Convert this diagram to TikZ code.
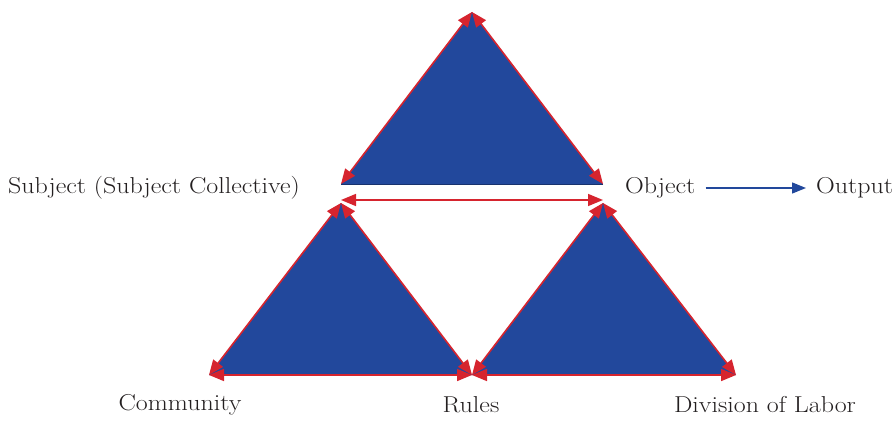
\documentclass[tikz,border=0pt]{standalone}
\usepackage{fontspec}
\setmainfont{Latin Modern Roman}[FakeStretch=1.13]
\usetikzlibrary{arrows.meta}
\definecolor{triblue}{RGB}{34,72,156}
\definecolor{edgered}{RGB}{214,36,46}
\definecolor{txt}{RGB}{35,31,32}
\tikzset{
  tri/.style={fill=triblue},
  redge/.style={draw=edgered, line width=1.6pt,
    {Triangle[length=15pt,width=12pt]}-{Triangle[length=15pt,width=12pt]}},
  lbl/.style={font=\fontsize{23}{27}\selectfont, text=txt, inner sep=0pt},
  flow/.style={draw=triblue, line width=1.4pt, -{Triangle[length=14pt,width=11pt]}}
}
\begin{document}
\begin{tikzpicture}[x=1pt,y=-1pt]
\useasboundingbox (0,0) rectangle (896,420);
% corners
\coordinate (T) at (472,12);
\coordinate (TL) at (341,184);
\coordinate (TR) at (603,184);
\coordinate (LA) at (341,203);
\coordinate (LL) at (209,375);
\coordinate (M) at (472,375);
\coordinate (RA) at (603,203);
\coordinate (RR) at (736,375);
\coordinate (HL) at (341,200);
\coordinate (HR) at (603,200);
% triangles
\fill[tri] (T) -- (TL) -- (TR) -- cycle;
\draw[triblue!70!black, line width=0.8pt] (TL) -- (TR);
\fill[tri] (LA) -- (LL) -- (M) -- cycle;
\fill[tri] (RA) -- (M) -- (RR) -- cycle;
% red double arrows
\draw[redge] (T) -- (TL);
\draw[redge] (T) -- (TR);
\draw[redge] (HL) -- (HR);
\draw[redge] (LA) -- (LL);
\draw[redge] (LA) -- (M);
\draw[redge] (LL) -- (M);
\draw[redge] (RA) -- (M);
\draw[redge] (RA) -- (RR);
\draw[redge] (M) -- (RR);
% labels
\node[lbl, anchor=east] (subj) at (300,188) {Subject (Subject Collective)};
\node[lbl, anchor=west] (obj) at (625,188) {Object};
\node[lbl, anchor=west] (out) at (816,188) {Output};
\node[lbl] (comm) at (180,405) {Community};
\node[lbl] (rules) at (471,405) {Rules};
\node[lbl] (div) at (765,405) {Division of Labor};
\draw[flow] ([xshift=10pt]obj.east) -- ([xshift=-10pt]out.west);
\end{tikzpicture}
\end{document}
